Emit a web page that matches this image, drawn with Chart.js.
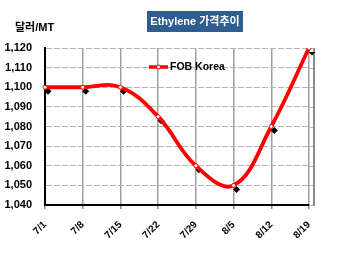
<!DOCTYPE html>
<html>
<head>
<meta charset="utf-8">
<script src="https://cdn.jsdelivr.net/npm/chart.js@4/dist/chart.umd.min.js"></script>
<style>
html,body{margin:0;padding:0;background:#fff;}
#wrap{width:350px;height:254px;}
</style>
</head>
<body>
<div id="wrap"><canvas id="c" width="350" height="254"></canvas></div>
<script>
const categories = ['7/1','7/8','7/15','7/22','7/29','8/5','8/12','8/19'];
const fobKorea = [1100, 1100, 1100, 1085, 1060, 1050, 1080, 1120];
const yTicks = [1040, 1050, 1060, 1070, 1080, 1090, 1100, 1110, 1120];
const seriesLabel = 'FOB Korea';
const titleText = 'Ethylene 가격추이';
const unitText = '달러/MT';

const FONT = '"Liberation Sans", Arial, sans-serif';
const KFONT = '"Liberation Sans", "Noto Sans CJK KR", sans-serif';

const deco = {
  id: 'deco',
  beforeDatasetsDraw(chart) {
    const {ctx, chartArea: a, scales} = chart;
    const rightX = a.right + 5;
    ctx.save();
    ctx.strokeStyle = '#b4b4b4';
    ctx.lineWidth = 1;
    ctx.setLineDash([6, 2]);
    yTicks.forEach(v => {
      const y = Math.round(scales.y.getPixelForValue(v)) + 0.5;
      ctx.beginPath(); ctx.moveTo(a.right, y); ctx.lineTo(rightX, y); ctx.stroke();
    });
    ctx.setLineDash([]);
    ctx.strokeStyle = '#8c8c8c';
    ctx.lineWidth = 2;
    ctx.beginPath(); ctx.moveTo(rightX, a.top); ctx.lineTo(rightX, a.bottom + 1); ctx.stroke();
    ctx.restore();
  },
  beforeDatasetDraw(chart, args) {
    if (args.index === 1) {
      chart.ctx.save();
      chart.ctx.translate(3, 4);
    }
  },
  afterDatasetDraw(chart, args) {
    if (args.index === 1) chart.ctx.restore();
  },
  afterDraw(chart) {
    const {ctx} = chart;
    ctx.save();
    ctx.fillStyle = '#305d8f';
    ctx.fillRect(147, 11, 96, 21);
    ctx.fillStyle = '#ffffff';
    ctx.font = 'bold 11px ' + KFONT;
    ctx.textAlign = 'center';
    ctx.textBaseline = 'middle';
    ctx.fillText(titleText, 195, 22);
    ctx.fillStyle = '#000';
    ctx.textAlign = 'left';
    ctx.font = 'bold 11px ' + KFONT;
    ctx.fillText(unitText, 15, 28);
    const ds = chart.data.datasets[0];
    ctx.strokeStyle = ds.borderColor;
    ctx.lineWidth = 3.5;
    ctx.beginPath(); ctx.moveTo(149, 67); ctx.lineTo(168, 67); ctx.stroke();
    ctx.fillStyle = '#fff';
    ctx.lineWidth = 1;
    ctx.beginPath(); ctx.arc(158.5, 67, 2, 0, Math.PI * 2); ctx.fill(); ctx.stroke();
    ctx.fillStyle = '#000';
    ctx.font = 'bold 10.5px ' + FONT;
    ctx.textBaseline = 'middle';
    ctx.fillText(ds.label, 170, 67.5);
    ctx.restore();
  }
};

new Chart(document.getElementById('c'), {
  type: 'line',
  data: {
    labels: categories,
    datasets: [
      {
        label: seriesLabel,
        data: fobKorea,
        borderColor: '#ff0000',
        borderWidth: 3.8,
        tension: 0.4,
        pointRadius: 2,
        pointBackgroundColor: '#ffffff',
        pointBorderColor: '#ff0000',
        pointBorderWidth: 1,
        order: 1
      },
      {
        label: seriesLabel + ' marker',
        data: fobKorea,
        showLine: false,
        pointStyle: 'rectRot',
        pointRadius: 3.5,
        pointBackgroundColor: '#000',
        pointBorderColor: '#000',
        pointBorderWidth: 0,
        order: 2
      }
    ]
  },
  options: {
    responsive: false,
    animation: false,
    events: [],
    layout: { padding: { top: 48, right: 41, bottom: 0, left: 0 } },
    plugins: { legend: { display: false }, title: { display: false }, tooltip: { enabled: false } },
    scales: {
      x: {
        offset: false,
        grid: { color: '#a0a0a0', lineWidth: 1.5, drawTicks: true, tickLength: 4, tickColor: '#888' },
        border: { display: true, color: '#000', width: 2 },
        ticks: {
          autoSkip: false, minRotation: 45, maxRotation: 45, padding: 10,
          color: '#000', font: { family: FONT, size: 10, weight: 'bold' }
        },
        afterFit(s) { s.height = 49; }
      },
      y: {
        min: 1040, max: 1120,
        afterBuildTicks(s) { s.ticks = yTicks.map(v => ({ value: v })); },
        grid: { color: '#b4b4b4', lineWidth: 1, drawTicks: false },
        border: { display: true, color: '#000', width: 2, dash: [6, 2] },
        ticks: {
          padding: 13, color: '#000',
          font: { family: FONT, size: 11, weight: 'bold' },
          callback: v => v.toLocaleString('en-US')
        },
        afterFit(s) { s.width = 45; }
      }
    }
  },
  plugins: [deco]
});
</script>
</body>
</html>
